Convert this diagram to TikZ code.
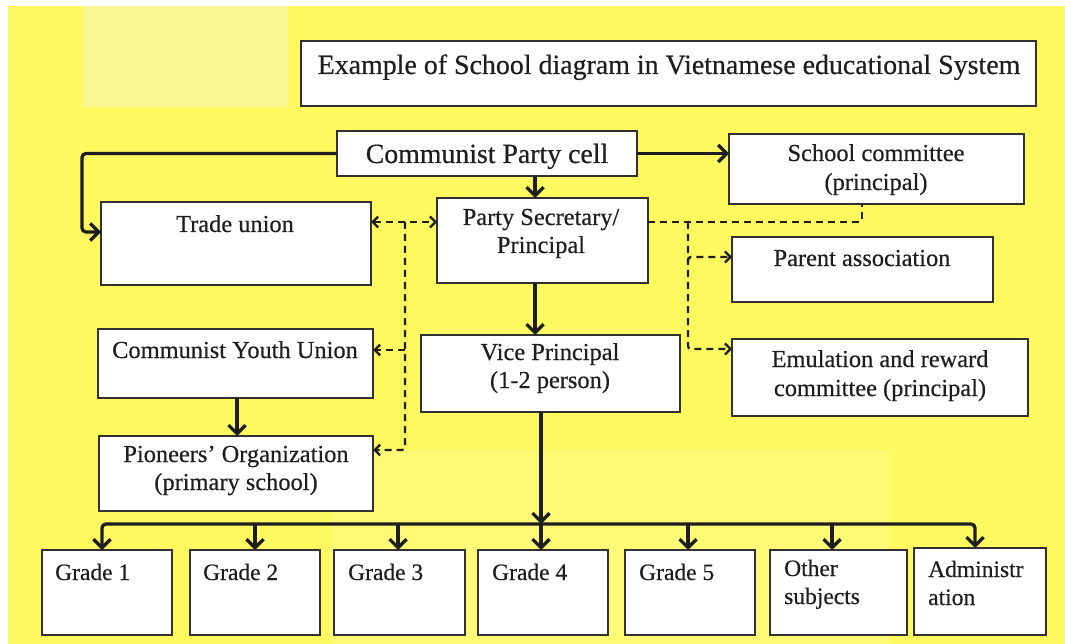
\documentclass[tikz,border=0pt]{standalone}
\usepackage{fontspec}
\setmainfont{Liberation Serif}[FakeBold=0.4]
\usetikzlibrary{arrows.meta}
\definecolor{bgyellow}{RGB}{254,249,95}
\definecolor{paleyellow}{RGB}{252,247,150}
\definecolor{wmyellow}{RGB}{254,250,118}
\definecolor{ink}{RGB}{30,30,30}
\definecolor{frame}{RGB}{50,50,50}
\newcommand\mybox[5]{\node[box, minimum width={#4-#2}, minimum height={#5-#3}] (#1) at ({(#2+#4)/2},{(#3+#5)/2}) {};}
\begin{document}
\begin{tikzpicture}[x=1pt,y=-1pt,
  box/.style={draw=frame, line width=1.9pt, fill=white, inner sep=0pt, outer sep=0pt},
  lbl/.style={text=ink, inner sep=0pt, anchor=base, font=\fontsize{24.4}{28}\selectfont},
  lblw/.style={lbl, anchor=base west, font=\fontsize{23.5}{28}\selectfont},
  solidarrow/.style={draw=ink, line width=3.3pt, -{Straight Barb[length=8.5pt,width=17pt]}},
  dashline/.style={draw=ink, line width=2.3pt, dash pattern=on 7pt off 5pt},
  dasharrow/.style={dashline, -{Straight Barb[length=5.5pt,width=11pt]}}
]
\useasboundingbox (0,0) rectangle (1065,644);
% background
\fill[white] (0,0) rectangle (1065,644);
\fill[bgyellow] (8,6) rectangle (1065,644);
\fill[paleyellow] (83,6) rectangle (288,107);
\fill[wmyellow] (330,450) rectangle (890,644);

% boxes
\mybox{title}{301}{41}{1036}{106}
\mybox{cpc}{337}{131}{637}{176}
\mybox{sc}{729}{134}{1024}{204}
\mybox{tu}{101}{202}{371}{285}
\mybox{ps}{437}{198}{648}{283}
\mybox{pa}{732}{237}{993}{302}
\mybox{vp}{421}{335}{680}{412}
\mybox{emu}{732}{339}{1028}{416}
\mybox{cyu}{98}{329}{373}{398}
\mybox{pio}{99}{436}{373}{511}
\mybox{g1}{42}{550}{172}{635}
\mybox{g2}{190}{550}{320}{635}
\mybox{g3}{334}{550}{465}{635}
\mybox{g4}{478}{550}{608}{635}
\mybox{g5}{625}{550}{755}{635}
\mybox{oth}{770}{550}{907}{635}
\mybox{adm}{914}{548}{1046}{635}

% texts
\node[lbl, font=\fontsize{27.9}{30}\selectfont] (titleT) at (669,74) {Example of School diagram in Vietnamese educational System};
\node[lbl, font=\fontsize{27.8}{30}\selectfont] (cpcT) at (487,163) {Communist Party cell};
\node[lbl] (sc1) at (876,161) {School committee};
\node[lbl] (sc2) at (876,190) {(principal)};
\node[lbl] (tuT) at (235,232) {Trade union};
\node[lbl] (ps1) at (541,225) {Party Secretary/};
\node[lbl] (ps2) at (541,253) {Principal};
\node[lbl] (pa1) at (862,266) {Parent association};
\node[lbl] (vp1) at (550,360) {Vice Principal};
\node[lbl] (vp2) at (550,388) {(1-2 person)};
\node[lbl] (emu1) at (880,367) {Emulation and reward};
\node[lbl] (emu2) at (880,396) {committee (principal)};
\node[lbl] (cyu1) at (235,358) {Communist Youth Union};
\node[lbl] (pio1) at (236,462) {Pioneers’ Organization};
\node[lbl] (pio2) at (236,490) {(primary school)};
\node[lblw] (g1T) at (55,580) {Grade 1};
\node[lblw] (g2T) at (203,580) {Grade 2};
\node[lblw] (g3T) at (348,580) {Grade 3};
\node[lblw] (g4T) at (492,580) {Grade 4};
\node[lblw] (g5T) at (639,580) {Grade 5};
\node[lblw] (oth1) at (784,576) {Other};
\node[lblw] (oth2) at (784,604) {subjects};
\node[lblw] (adm1) at (928,577) {Administr};
\node[lblw] (adm2) at (928,605) {ation};

% solid connectors
\draw[solidarrow, rounded corners=4pt] (cpc.west) -| (82,232) -- (tu.west |- 0,232);
\draw[solidarrow] (cpc.east) -- (sc.west |- cpc.east);
\draw[solidarrow] (cpc.south -| 535,0) -- (ps.north -| 535,0);
\draw[solidarrow] (ps.south -| 535,0) -- (vp.north -| 535,0);
\draw[solidarrow] (cyu.south -| 237,0) -- (pio.north -| 237,0);

% dashed connectors
\draw[dashline, {Straight Barb[length=5.5pt,width=11pt]}-{Straight Barb[length=5.5pt,width=11pt]}] (tu.east |- 0,222) -- (ps.west |- 0,222);
\coordinate (lsplit) at (405,222);
\draw[dasharrow, rounded corners=3pt] (lsplit) |- (pio.east |- 0,450);
\draw[dasharrow] (405,350) -- (cyu.east |- 0,350);
\draw[dashline, rounded corners=3pt] (ps.east |- 0,222) -| (sc.south -| 862,0);
\coordinate (rsplit) at (688,222);
\draw[dasharrow, rounded corners=3pt] (rsplit) |- (emu.west |- 0,349);
\draw[dasharrow, rounded corners=3pt] (688,262) |- (pa.west |- 0,257);

% bottom distribution
\coordinate (hub) at (541,524);
\draw[solidarrow] (vp.south -| 541,0) -- (hub);
\draw[solidarrow, rounded corners=4pt] (hub) -| (g1.north -| 102,0);
\draw[solidarrow, rounded corners=4pt] (hub) -| (adm.north -| 975,0);
\foreach \n/\x in {g2/255,g3/398,g4/541,g5/688,oth/832}
  \draw[solidarrow] (\x,524) -- (\n.north -| \x,0);
\end{tikzpicture}
\end{document}
